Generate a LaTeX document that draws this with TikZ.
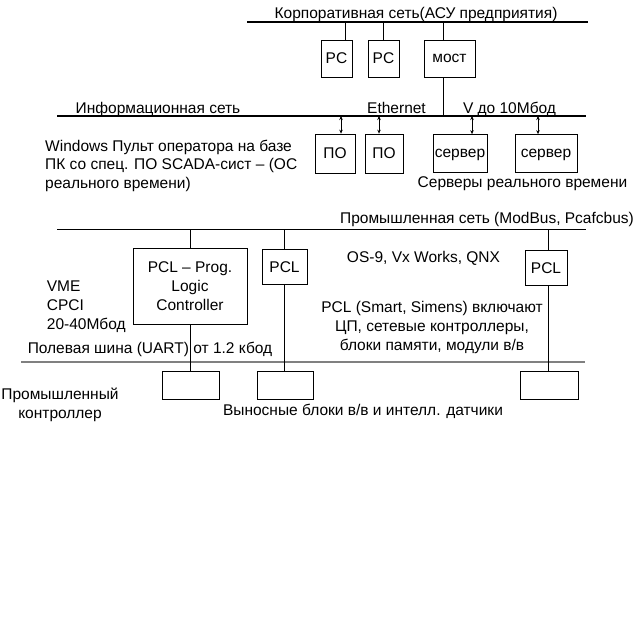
\documentclass[tikz,border=0pt]{standalone}
\usepackage{fontspec}
\setmainfont{Liberation Sans}
\usetikzlibrary{arrows.meta}
\definecolor{fieldgray}{RGB}{128,128,128}
\tikzset{box/.style={draw, line width=0.7pt, inner sep=0pt, align=center},
  onebox/.style={box, text height=#1, text depth=0pt},
  onebox/.default=11pt,
  bus/.style={line width=1.6pt},
  link/.style={line width=0.7pt},
  duplex/.style={line width=0.7pt, {Stealth[length=4pt,width=3.5pt]}-{Stealth[length=4pt,width=3.5pt]}},
  lbl/.style={inner sep=0pt, anchor=base},
  block/.style={inner sep=0pt, align=#1},
  block/.default=center
}

\begin{document}
\begin{tikzpicture}[x=1pt,y=-1pt,font=\fontsize{15.5}{19}\selectfont]
    \useasboundingbox (0,0) rectangle (636,628);

    % Buses
    \coordinate (corpL) at (247,22);   \coordinate (corpR) at (588,22);
    \coordinate (infoL) at (57,116);   \coordinate (infoR) at (586,116);
    \coordinate (indL) at (57,229.5);  \coordinate (indR) at (586,229.5);
    \coordinate (fieldL) at (21,362);  \coordinate (fieldR) at (585,362);
    \draw[bus] (corpL) -- (corpR);
    \draw[bus] (infoL) -- (infoR);
    \draw[bus] (indL) -- (indR);
    \draw[bus, color=fieldgray] (fieldL) -- (fieldR);

    % Corporate level
    \node[onebox, minimum width=31, minimum height=37] (pc1) at (336.5,58.5) {PC};
    \node[onebox, minimum width=31, minimum height=37] (pc2) at (383.5,58.5) {PC};
    \node[onebox=8pt, minimum width=51, minimum height=37] (most) at (449.5,58.5) {мост};
    \coordinate (t1) at (345,22);
    \coordinate (t2) at (383.5,22);
    \coordinate (t3) at (443.5,22);
    \draw[link] (t1) -- (t1 |- pc1.north);
    \draw[link] (t2) -- (t2 |- pc2.north);
    \draw[link] (t3) -- (t3 |- most.north);
    \draw[link] (most.south -| t3) -- (t3 |- infoL);

    % Information level
    \node[onebox, minimum width=40, minimum height=39] (po1) at (335,153.5) {ПО};
    \node[onebox, minimum width=38, minimum height=39] (po2) at (384,153.5) {ПО};
    \node[onebox=8pt, minimum width=54, minimum height=38] (srv1) at (460,153.5) {сервер};
    \node[onebox=8pt, minimum width=62, minimum height=38] (srv2) at (546,153.5) {сервер};
    \coordinate (a1) at (341,116);
    \coordinate (a2) at (379,116);
    \coordinate (a3) at (472,116);
    \coordinate (a4) at (538,116);
    \draw[duplex] (a1) -- (a1 |- po1.north);
    \draw[duplex] (a2) -- (a2 |- po2.north);
    \draw[duplex] (a3) -- (a3 |- srv1.north);
    \draw[duplex] (a4) -- (a4 |- srv2.north);

    % Industrial level
    \node[box, minimum width=114, minimum height=76] (plc) at (190,286) {PCL -- Prog.\\Logic\\Controller};
    \node[onebox, minimum width=45, minimum height=35] (plc2) at (284.5,267) {PCL};
    \node[onebox, minimum width=42, minimum height=35] (plc3) at (546,267.5) {PCL};
    \node[box, minimum width=57, minimum height=28] (io1) at (190.5,385) {};
    \node[box, minimum width=56, minimum height=28] (io2) at (285,385) {};
    \node[box, minimum width=58, minimum height=28] (io3) at (549,385) {};
    \coordinate (i1) at (190.3,229.5);
    \coordinate (i2) at (284.3,229.5);
    \coordinate (i3) at (548.5,229.5);
    \draw[link] (i1) -- (i1 |- plc.north);
    \draw[link] (plc.south -| i1) -- (i1 |- io1.north);
    \draw[link] (i2) -- (i2 |- plc2.north);
    \draw[link] (plc2.south -| i2) -- (i2 |- io2.north);
    \draw[link] (i3) -- (i3 |- plc3.north);
    \draw[link] (plc3.south -| i3) -- (i3 |- io3.north);

    % Labels
    \node[lbl] (corpLbl) at (416,18.5) {Корпоративная сеть(АСУ предприятия)};
    \node[lbl] (infoLbl) at (158,113.5) {Информационная сеть};
    \node[lbl] (ethLbl) at (396.5,113.5) {Ethernet};
    \node[lbl] (speedLbl) at (509.5,113.5) {V до 10Мбод};
    \node[block=left, anchor=west, font=\fontsize{15.5}{18.5}\selectfont] (scadaLbl) at (45,165.5) {Windows Пульт оператора на базе\\ПК со спец. ПО SCADA-сист -- (ОС\\реального времени)};
    \node[lbl] (srvLbl) at (522.5,187.5) {Серверы реального времени};
    \node[lbl, anchor=base east] (indLbl) at (634,223.5) {Промышленная сеть (ModBus, Pcafcbus)};
    \node[lbl] (osLbl) at (423.5,262) {OS-9, Vx Works, QNX};
    \node[block=left, anchor=west] (busLbl) at (46.7,306.5) {VME\\CPCI\\20-40Мбод};
    \node[block] (plcLbl) at (432,327) {PCL (Smart, Simens) включают\\ЦП, сетевые контроллеры,\\блоки памяти, модули в/в};
    \node[lbl] (fieldLbl) at (150,353.5) {Полевая шина (UART) от 1.2 кбод};
    \node[block] (ctrlLbl) at (60,404.5) {Промышленный\\контроллер};
    \node[lbl] (ioLbl) at (363,415.5) {Выносные блоки в/в и интелл. датчики};
\end{tikzpicture}
\end{document}
